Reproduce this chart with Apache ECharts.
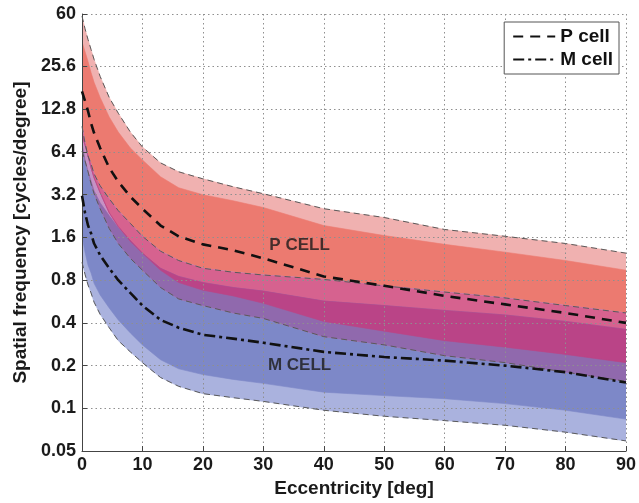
<!DOCTYPE html>
<html><head><meta charset="utf-8">
<script src="https://cdn.jsdelivr.net/npm/echarts@6/dist/echarts.min.js"></script>
<style>html,body{margin:0;padding:0;background:#fff}#c{width:639px;height:503px}</style>
</head><body><div id="c"></div>
<script>
// ---- data ----
const ecc = [0,0.5,1,1.5,2,3,4.5,6,8,10,13,16,20,25,30,40,50,60,70,80,90];
const pOuterTop    = [58,47.2,39.6,33.7,28.7,21.8,15.5,12.0,8.84,6.94,5.36,4.64,4.14,3.64,3.25,2.55,2.21,1.82,1.63,1.45,1.24];
const pInnerTop    = [38.3,32.6,27.8,23.2,19.8,15.5,11.3,8.84,6.83,5.63,4.28,3.58,3.2,2.90,2.60,1.94,1.65,1.43,1.26,1.10,0.94];
const pMean        = [17.1,14.6,12.4,10.2,8.7,6.83,4.95,3.95,3.10,2.55,1.94,1.63,1.43,1.30,1.14,0.85,0.73,0.62,0.54,0.47,0.40];
const pInnerBottom = [8.42,7.17,6.0,4.95,4.21,3.31,2.39,1.91,1.50,1.24,0.94,0.77,0.68,0.62,0.55,0.41,0.35,0.30,0.27,0.24,0.21];
const pOuterBottom = [6.5,5.54,4.64,3.82,3.25,2.55,1.85,1.45,1.14,0.94,0.71,0.59,0.53,0.47,0.43,0.32,0.28,0.235,0.21,0.18,0.155];
const mOuterTop    = [9.7,7.4,6.0,5.27,4.49,3.70,3.0,2.47,2.01,1.63,1.28,1.10,0.97,0.91,0.87,0.81,0.73,0.66,0.60,0.53,0.47];
const mInnerTop    = [7.4,5.63,4.56,4.01,3.41,2.81,2.28,1.88,1.52,1.24,0.97,0.85,0.77,0.71,0.67,0.57,0.53,0.49,0.455,0.41,0.36];
const mMean        = [3.15,2.39,1.94,1.71,1.45,1.20,0.97,0.80,0.65,0.53,0.42,0.37,0.33,0.31,0.29,0.25,0.23,0.217,0.20,0.18,0.152];
const mInnerBottom = [1.65,1.26,1.02,0.90,0.76,0.63,0.51,0.42,0.34,0.28,0.22,0.19,0.173,0.16,0.15,0.13,0.123,0.117,0.108,0.097,0.084];
const mOuterBottom = [1.07,0.88,0.74,0.65,0.56,0.46,0.37,0.30,0.25,0.21,0.165,0.143,0.127,0.119,0.112,0.097,0.088,0.082,0.076,0.068,0.059];

const yTicks = [0.05,0.1,0.2,0.4,0.8,1.6,3.2,6.4,12.8,25.6,60];
const yTickLabels = ['0.05','0.1','0.2','0.4','0.8','1.6','3.2','6.4','12.8','25.6','60'];
const xTicks = [0,10,20,30,40,50,60,70,80,90];
const legendNames = ['P cell','M cell'];
const regionLabels = ['P CELL','M CELL'];
const regionLabelAt = [[36,1.41],[36,0.2]];

// ---- helpers ----
const ly = v => Math.log2(v);
const FONT = "'Liberation Sans', Arial, Helvetica, sans-serif";
const minOf = (a,b) => a.map((v,i)=>Math.min(v,b[i]));
const maxOf = (a,b) => a.map((v,i)=>Math.max(v,b[i]));
function inter(u1,l1,u2,l2){
  const u = minOf(u1,u2), l = maxOf(l1,l2);
  return [u.map((v,i)=>Math.max(v,l[i])), l];
}
function band(id, upper, lower, color){
  return {
    type:'custom', id, silent:true, z:1, clip:true,
    coordinateSystem:'cartesian2d',
    data:[[ecc[0], ly(lower[0])]], encode:{x:0,y:1},
    renderItem:(params, api)=>{
      const pts=[];
      for(let i=0;i<ecc.length;i++) pts.push(api.coord([ecc[i], ly(upper[i])]));
      for(let i=ecc.length-1;i>=0;i--) pts.push(api.coord([ecc[i], ly(lower[i])]));
      return {type:'polygon', shape:{points:pts}, style:{fill:color, stroke:color, lineWidth:0.6}};
    }
  };
}
function line(name, vals, style, z){
  return {
    type:'line', name, z, symbol:'none', showSymbol:false, silent:true, smooth:false,
    data: ecc.map((x,i)=>[x, ly(vals[i])]),
    itemStyle:{color:style.color, opacity:0},
    lineStyle: style, emphasis:{disabled:true}
  };
}
const C = {
  po:'#f0b1b0', pi:'#ec7a70', mo:'#aab2de', mi:'#7d88c8',
  pomo:'#c592c4', pimo:'#d6628f', pomi:'#9069ad', pimi:'#ba4487'
};
const [pomoU,pomoL] = inter(pOuterTop,pOuterBottom,mOuterTop,mOuterBottom);
const [pimoU,pimoL] = inter(pInnerTop,pInnerBottom,mOuterTop,mOuterBottom);
const [pomiU,pomiL] = inter(pOuterTop,pOuterBottom,mInnerTop,mInnerBottom);
const [pimiU,pimiL] = inter(pInnerTop,pInnerBottom,mInnerTop,mInnerBottom);

const thin = {color:'#5a5a5a', width:1, type:[6,4]};
const series = [
  band('po', pOuterTop, pOuterBottom, C.po),
  band('pi', pInnerTop, pInnerBottom, C.pi),
  band('mo', mOuterTop, mOuterBottom, C.mo),
  band('mi', mInnerTop, mInnerBottom, C.mi),
  band('pomo', pomoU, pomoL, C.pomo),
  band('pimo', pimoU, pimoL, C.pimo),
  band('pomi', pomiU, pomiL, C.pomi),
  band('pimi', pimiU, pimiL, C.pimi),
  line('', pOuterTop, thin, 4),
  line('', pOuterBottom, thin, 4),
  line('', mOuterTop, thin, 4),
  line('', mOuterBottom, thin, 4),
  line(legendNames[0], pMean, {color:'#111', width:2.6, type:[10,7]}, 5),
  line(legendNames[1], mMean, {color:'#111', width:2.6, type:[11,4,3,4]}, 5),
  {
    type:'scatter', z:6, silent:true, symbolSize:1,
    itemStyle:{color:'rgba(0,0,0,0)'},
    data: regionLabelAt.map((p,i)=>({value:[p[0], ly(p[1])], label:{formatter:regionLabels[i]}})),
    label:{show:true, position:'inside', color:'#1a1a1a', fontSize:17, fontWeight:'bold', fontFamily:FONT}
  }
];

const axisText = {fontSize:18, fontWeight:'bold', color:'#1a1a1a', fontFamily:FONT};
const grid = {color:'#8f8f8f', width:1, type:[1.5,3]};
const option = {
  animation:false,
  backgroundColor:'#fff',
  grid:{left:82, right:12, top:14, bottom:51, containLabel:false},
  legend:{
    data: legendNames, orient:'vertical', right:20, top:22, z:10,
    itemWidth:42, itemHeight:18, itemGap:4, padding:[5,6,5,8],
    itemStyle:{opacity:0},
    backgroundColor:'#fff', borderColor:'#555', borderWidth:1,
    textStyle:{fontSize:19, fontWeight:'bold', color:'#111', fontFamily:FONT},
    selectedMode:false
  },
  xAxis:{
    type:'value', min:xTicks[0], max:xTicks[xTicks.length-1], interval:xTicks[1]-xTicks[0], z:3,
    axisLine:{show:true, onZero:false, lineStyle:{color:'#444', width:1}},
    axisTick:{show:true, inside:true, length:5, lineStyle:{color:'#444'}},
    splitLine:{show:true, lineStyle:grid},
    axisLabel:Object.assign({margin:5}, axisText),
    name:'Eccentricity [deg]', nameLocation:'middle', nameGap:27,
    nameTextStyle:{fontSize:19, fontWeight:'bold', color:'#1a1a1a', fontFamily:FONT}
  },
  yAxis:{
    type:'value', min:ly(yTicks[0]), max:ly(yTicks[yTicks.length-1]), z:3,
    axisLine:{show:true, onZero:false, lineStyle:{color:'#444', width:1}},
    axisTick:{show:true, inside:true, length:5, lineStyle:{color:'#444'}, customValues: yTicks.map(ly)},
    splitLine:{show:true, lineStyle:grid},
    axisLabel:Object.assign({margin:6, customValues: yTicks.map(ly),
      formatter:(v)=>{ for(let i=0;i<yTicks.length;i++){ if(Math.abs(ly(yTicks[i])-v)<1e-6) return yTickLabels[i]; } return ''; }
    }, axisText),
    name:'Spatial frequency [cycles/degree]', nameLocation:'middle', nameGap:50,
    nameTextStyle:{fontSize:19, fontWeight:'bold', color:'#1a1a1a', fontFamily:FONT}
  },
  series
};
const chart = echarts.init(document.getElementById('c'), null, {renderer:'canvas'});
chart.setOption(option);
</script>
</body></html>
